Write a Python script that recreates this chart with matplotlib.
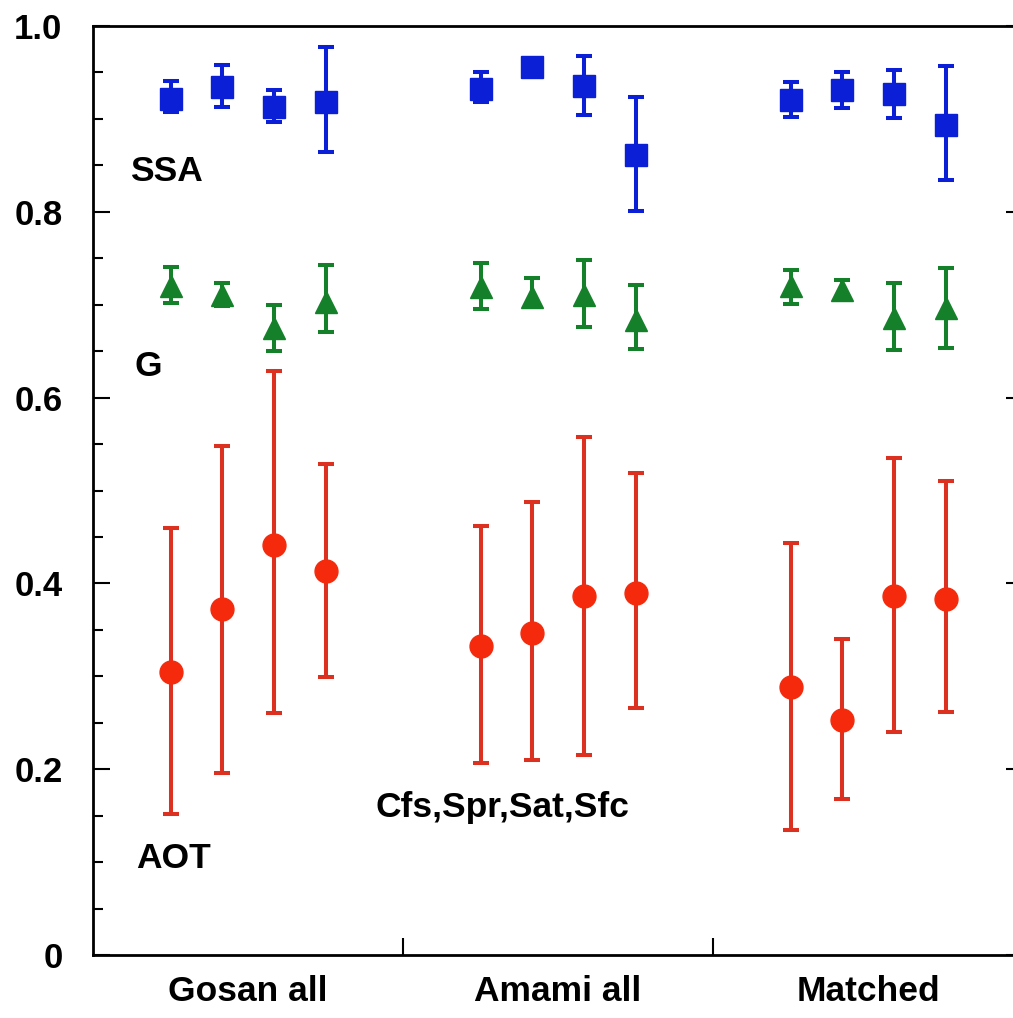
import numpy as np
import matplotlib.pyplot as plt
from matplotlib.ticker import MultipleLocator

plt.rcParams['font.family'] = ['Liberation Sans', 'DejaVu Sans']
plt.rcParams['font.weight'] = 'bold'

groups = ["Gosan all", "Amami all", "Matched"]

# values per group: Cfs, Spr, Sat, Sfc
ssa     = [0.921, 0.934, 0.913, 0.918,  0.932, 0.956, 0.935, 0.861,  0.920, 0.931, 0.927, 0.893]
ssa_top = [0.941, 0.958, 0.931, 0.977,  0.951, 0.962, 0.968, 0.924,  0.940, 0.951, 0.953, 0.957]
ssa_bot = [0.907, 0.913, 0.897, 0.864,  0.918, 0.950, 0.904, 0.801,  0.902, 0.912, 0.901, 0.834]

g       = [0.720, 0.710, 0.675, 0.703,  0.719, 0.708, 0.710, 0.684,  0.720, 0.716, 0.686, 0.696]
g_top   = [0.741, 0.723, 0.700, 0.743,  0.745, 0.729, 0.748, 0.721,  0.737, 0.727, 0.723, 0.740]
g_bot   = [0.702, 0.699, 0.650, 0.671,  0.695, 0.699, 0.676, 0.652,  0.701, 0.707, 0.651, 0.653]

aot     = [0.305, 0.372, 0.441, 0.413,  0.333, 0.347, 0.386, 0.390,  0.289, 0.253, 0.386, 0.383]
aot_top = [0.460, 0.548, 0.629, 0.529,  0.462, 0.488, 0.558, 0.519,  0.443, 0.340, 0.535, 0.510]
aot_bot = [0.152, 0.196, 0.260, 0.299,  0.207, 0.210, 0.215, 0.266,  0.135, 0.168, 0.240, 0.262]

# x position: group index + offset of each case
offsets = [0.25, 0.25 + 1/6, 0.25 + 2/6, 0.75]
x = np.array([i + o for i in range(3) for o in offsets])


def errs(v, top, bot):
    v = np.array(v)
    return [v - np.array(bot), np.array(top) - v]


fig = plt.figure(figsize=(10.13, 10.18), dpi=100)
ax = fig.add_axes([93/1013, 63/1018, 930/1013, 929/1018])

kw = dict(ls='none', elinewidth=2.9, capsize=6, capthick=2.9, markersize=16.5)
ax.errorbar(x, ssa, yerr=errs(ssa, ssa_top, ssa_bot), fmt='s', color='#0b1fd6', **kw)
ax.errorbar(x, g, yerr=errs(g, g_top, g_bot), fmt='^', color='#14802a', **kw)
ax.errorbar(x, aot, yerr=errs(aot, aot_top, aot_bot), fmt='o', color='#f52a0c',
            ecolor='#dc3020', **kw)

ax.set_xlim(0, 3)
ax.set_ylim(0, 1.0)

ax.set_yticks([0, 0.2, 0.4, 0.6, 0.8, 1.0])
ax.set_yticklabels(["0", "0.2", "0.4", "0.6", "0.8", "1.0"])
ax.yaxis.set_minor_locator(MultipleLocator(0.05))
ax.tick_params(axis='y', which='both', direction='in', left=True, right=True,
               labelsize=25, pad=22, width=1.5)
ax.tick_params(axis='y', which='major', length=12)
ax.tick_params(axis='y', which='minor', length=7)
ax.set_xticks([1, 2])
ax.set_xticklabels([])
ax.tick_params(axis='x', which='both', direction='in', length=12, width=1.5,
               top=False, bottom=True)

for s in ax.spines.values():
    s.set_linewidth(2)

for i, name in enumerate(groups):
    ax.text(i + 0.5, -0.039, name, ha='center', va='center', fontsize=25.5,
            fontweight='bold')

ax.text(0.12, 0.843, "SSA", ha='left', va='center', fontsize=25.5, fontweight='bold')
ax.text(0.135, 0.633, "G", ha='left', va='center', fontsize=25.5, fontweight='bold')
ax.text(0.14, 0.104, "AOT", ha='left', va='center', fontsize=25.5, fontweight='bold')
ax.text(0.91, 0.159, "Cfs,Spr,Sat,Sfc", ha='left', va='center', fontsize=25.5,
        fontweight='bold')

fig.savefig("out.png", dpi=100)
